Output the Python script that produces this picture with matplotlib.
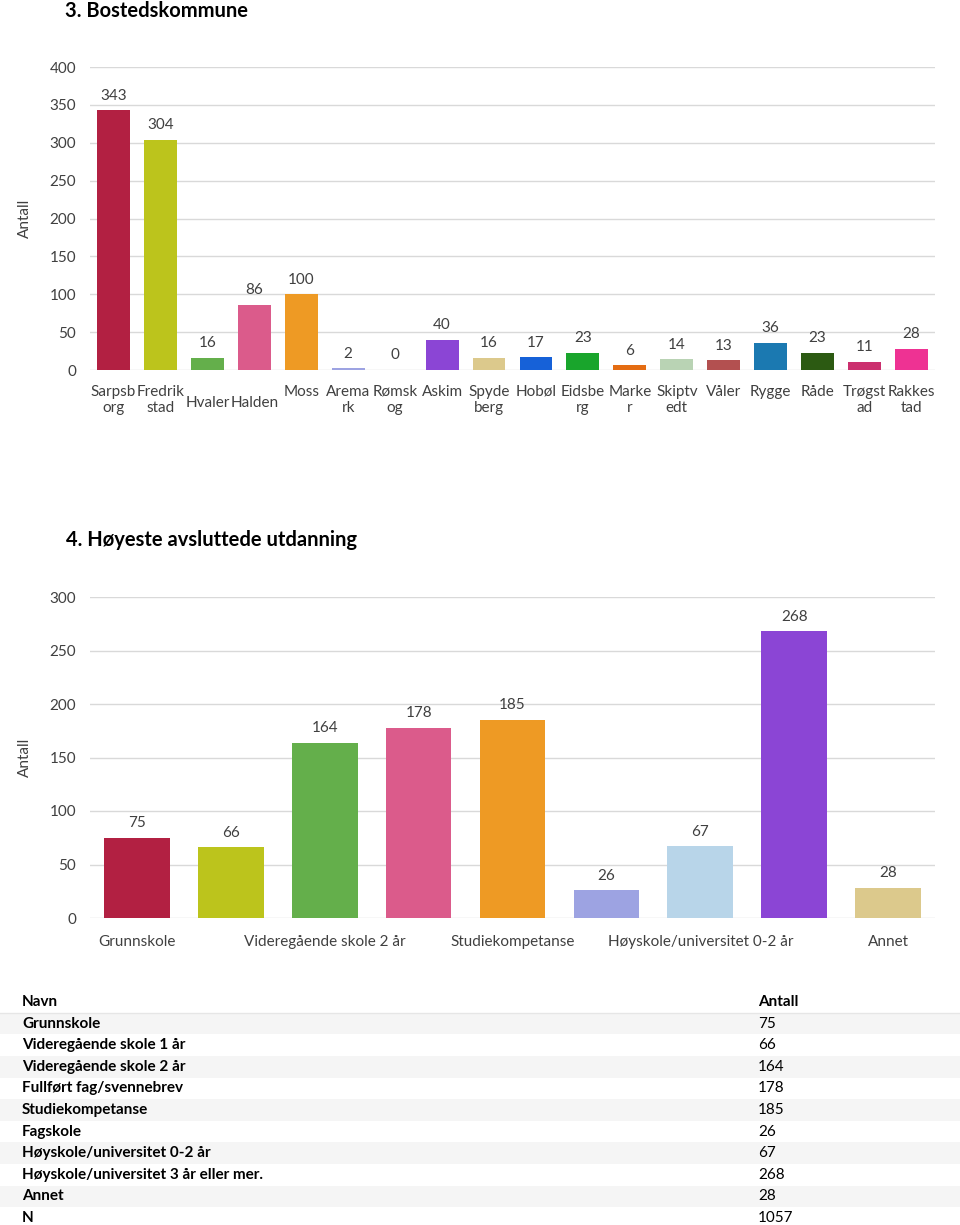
import matplotlib
matplotlib.use("Agg")
import matplotlib.pyplot as plt
from matplotlib.patches import Rectangle

plt.rcParams['font.family'] = ['Lato', 'DejaVu Sans']

# ---------------- data ----------------
kommuner = ["Sarpsborg", "Fredrikstad", "Hvaler", "Halden", "Moss", "Aremark", "Rømskog",
            "Askim", "Spydeberg", "Hobøl", "Eidsberg", "Marker", "Skiptvedt", "Våler",
            "Rygge", "Råde", "Trøgstad", "Rakkestad"]
kommune_labels = ["Sarpsb\norg", "Fredrik\nstad", "Hvaler", "Halden", "Moss", "Arema\nrk", "Rømsk\nog",
                  "Askim", "Spyde\nberg", "Hobøl", "Eidsbe\nrg", "Marke\nr", "Skiptv\nedt", "Våler",
                  "Rygge", "Råde", "Trøgst\nad", "Rakkes\ntad"]
kommune_values = [343, 304, 16, 86, 100, 2, 0, 40, 16, 17, 23, 6, 14, 13, 36, 23, 11, 28]
kommune_colors = ["#B22042", "#BCC41C", "#64AF4B", "#DB5B8B", "#EE9A24", "#9DA3E2", "#9DA3E2",
                  "#8B45D5", "#DCC98C", "#1661D8", "#19A52C", "#E46C12", "#B9D3B4", "#B35050",
                  "#1B79B1", "#2C5A12", "#CB2F6E", "#EE3293"]
centered_labels = {"Hvaler", "Halden"}

utd_names = ["Grunnskole", "Videregående skole 1 år", "Videregående skole 2 år",
             "Fullført fag/svennebrev", "Studiekompetanse", "Fagskole",
             "Høyskole/universitet 0-2 år", "Høyskole/universitet 3 år eller mer.", "Annet"]
utd_tick_labels = ["Grunnskole", "", "Videregående skole 2 år", "", "Studiekompetanse", "",
                   "Høyskole/universitet 0-2 år", "", "Annet"]
utd_values = [75, 66, 164, 178, 185, 26, 67, 268, 28]
utd_colors = ["#B22042", "#BCC41C", "#64AF4B", "#DB5B8B", "#EE9A24", "#9DA3E2", "#B8D5E9",
              "#8B45D5", "#DCC98C"]
total_label = "N"
total_value = 1057

W, H = 960, 1225
fig = plt.figure(figsize=(W / 100, H / 100), dpi=100)
fig.patch.set_facecolor("white")

TXT = "#404040"
GRID = "#D9D9D9"
FS = 11


def px_axes(left, top, right, bottom):
    return fig.add_axes([left / W, 1 - bottom / H, (right - left) / W, (bottom - top) / H])


def style(ax, ymax, step):
    ax.set_ylim(0, ymax)
    ax.set_yticks(range(0, ymax + 1, step))
    ax.yaxis.grid(True, color=GRID, linewidth=1)
    ax.set_axisbelow(True)
    for s in ax.spines.values():
        s.set_visible(False)
    ax.tick_params(axis='y', length=0, pad=10, labelsize=FS, labelcolor=TXT)
    ax.tick_params(axis='x', length=0)
    ax.set_xticks([])


# ---------------- chart 3 ----------------
fig.text(65 / W, 1 - 17 / H, "3. Bostedskommune", fontsize=14.5, fontweight='bold',
         color="#000000", ha='left', va='baseline')
ax1 = px_axes(90, 67, 935, 370)
n1 = len(kommuner)
x1 = list(range(n1))
ax1.bar(x1, kommune_values, width=0.7, color=kommune_colors)
ax1.set_xlim(-0.5, n1 - 0.5)
style(ax1, 400, 50)
for xi, v in zip(x1, kommune_values):
    ax1.annotate(str(v), (xi, v), xytext=(0, 10.5), textcoords='offset points',
                 ha='center', va='center', fontsize=FS, color=TXT)
for xi, lab, name in zip(x1, kommune_labels, kommuner):
    if name in centered_labels:
        ax1.annotate(lab, (xi, 0), xytext=(0, -24), textcoords='offset points',
                     ha='center', va='center', fontsize=FS, color=TXT)
    else:
        ax1.annotate(lab, (xi, 0), xytext=(0, -10.5), textcoords='offset points',
                     ha='center', va='top', fontsize=FS, color=TXT, linespacing=1.2)
fig.text(25 / W, 1 - 218 / H, "Antall", rotation=90, fontsize=FS, color=TXT,
         ha='center', va='center')

# ---------------- chart 4 ----------------
fig.text(66 / W, 1 - 546 / H, "4. Høyeste avsluttede utdanning", fontsize=14.5,
         fontweight='bold', color="#000000", ha='left', va='baseline')
ax2 = px_axes(90, 597, 935, 918)
n2 = len(utd_values)
x2 = list(range(n2))
ax2.bar(x2, utd_values, width=0.7, color=utd_colors)
ax2.set_xlim(-0.5, n2 - 0.5)
style(ax2, 300, 50)
for xi, v in zip(x2, utd_values):
    ax2.annotate(str(v), (xi, v), xytext=(0, 10.5), textcoords='offset points',
                 ha='center', va='center', fontsize=FS, color=TXT)
for xi, lab in zip(x2, utd_tick_labels):
    if lab:
        ax2.annotate(lab, (xi, 0), xytext=(0, -17.5), textcoords='offset points',
                     ha='center', va='center', fontsize=FS, color=TXT)
fig.text(25 / W, 1 - 757 / H, "Antall", rotation=90, fontsize=FS, color=TXT,
         ha='center', va='center')

# ---------------- table ----------------
tax = fig.add_axes([0, 0, 1, 1], zorder=-1)
tax.set_xlim(0, W)
tax.set_ylim(H, 0)
tax.axis('off')
row_h = 21.6
y0 = 1002
rows = [(n, str(v)) for n, v in zip(utd_names, utd_values)] + [(total_label, str(total_value))]
tax.text(22, y0, "Navn", fontsize=FS, fontweight='bold', color="#000000", va='center', ha='left')
tax.text(758, y0, "Antall", fontsize=FS, fontweight='bold', color="#000000", va='center', ha='left')
tax.plot([0, W], [y0 + row_h / 2, y0 + row_h / 2], color="#E6E6E6", linewidth=1)
for i, (name, val) in enumerate(rows):
    yc = y0 + (i + 1) * row_h
    if i % 2 == 0 and name != total_label:
        tax.add_patch(Rectangle((0, yc - row_h / 2), W, row_h, color="#F5F5F5", linewidth=0))
    tax.text(22, yc, name, fontsize=FS, fontweight='bold', color="#000000", va='center', ha='left')
    tax.text(758, yc, val, fontsize=FS, color="#000000", va='center', ha='left')

fig.savefig("out.png", dpi=100)
